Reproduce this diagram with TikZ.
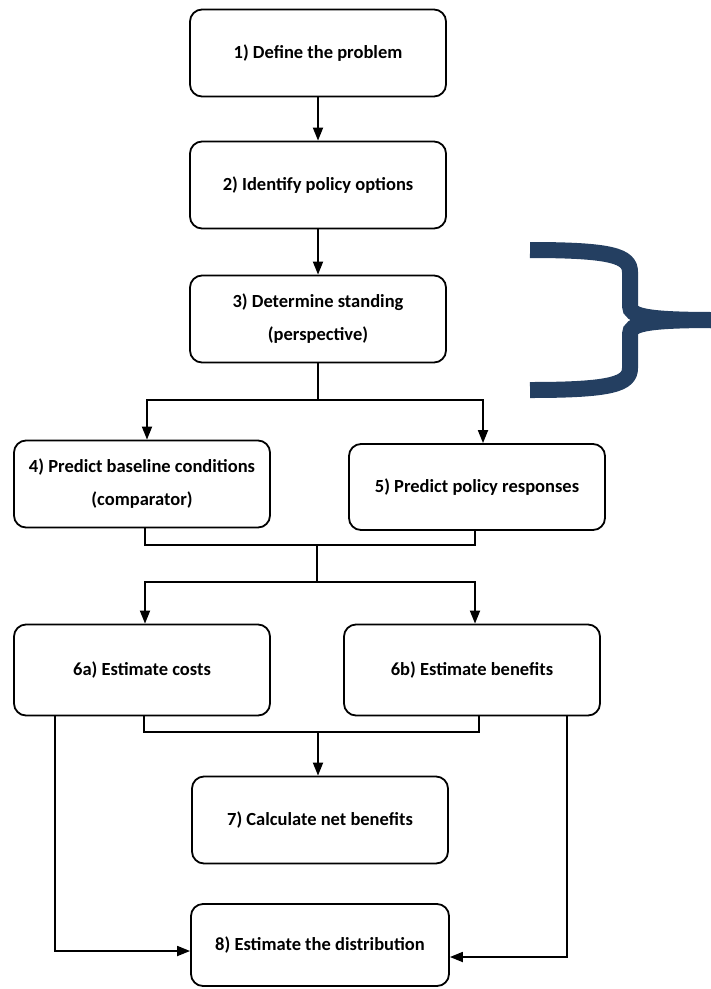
\documentclass[tikz,border=0pt]{standalone}
\usepackage{fontspec}
\setmainfont{Carlito}
\usetikzlibrary{positioning,arrows.meta}
\definecolor{bracenavy}{RGB}{36,63,97}

\begin{document}
\begin{tikzpicture}[x=1pt,y=-1pt,node distance=130pt,on grid,
    stepbox/.style={draw,line width=1.8pt,rounded corners=12pt,
      minimum width=256pt,minimum height=87pt,align=center,
      font=\fontsize{18.5}{33}\selectfont\bfseries},
    arr/.style={-{Triangle[length=13pt,width=10pt]},line width=1.8pt},
    link/.style={line width=1.8pt}]
   \useasboundingbox (0,0) rectangle (711,989);
   \node[stepbox] (def)   at (318,53) {1) Define the problem};
   \node[stepbox] (ident) [below=132pt of def]   {2) Identify policy options};
   \node[stepbox] (stand) [below=134pt of ident] {3) Determine standing\\(perspective)};
   \node[stepbox] (base)  [below left=165pt and 176pt of stand] {4) Predict baseline conditions\\(comparator)};
   \node[stepbox] (resp)  [below right=168pt and 159pt of stand,minimum height=86pt] {5) Predict policy responses};
   \node[stepbox] (costs) [below=186pt of base,minimum height=91pt] {6a) Estimate costs};
   \node[stepbox] (benef) [right=330pt of costs,minimum height=91pt] {6b) Estimate benefits};
   \node[stepbox] (net)   [below right=150pt and 178pt of costs] {7) Calculate net benefits};
   \node[stepbox] (dist)  [below=125pt of net,minimum height=82pt,minimum width=258pt] {8) Estimate the distribution};
   \coordinate (split) at (318,400);
   \coordinate (join1) at (317,545);
   \coordinate (join2) at (317,582);
   \coordinate (join3) at (318,732);
   \draw[arr] (def) -- (ident);
   \draw[arr] (ident) -- (stand);
   \draw[link] (stand) -- (split);
   \draw[arr] (split) -| ([xshift=5pt]base.north);
   \draw[arr] (split) -| ([xshift=6pt]resp.north);
   \draw[link] ([xshift=3pt]base.south) |- (join1) -| ([xshift=-2pt]resp.south);
   \draw[link] (join1) -- (join2);
   \draw[arr] (join2) -| ([xshift=3pt]costs.north);
   \draw[arr] (join2) -| ([xshift=3pt]benef.north);
   \draw[link] ([xshift=2pt]costs.south) |- (join3) -| ([xshift=7pt]benef.south);
   \draw[arr] (join3) -- (join3 |- net.north);
   \draw[arr] ([xshift=-87pt]costs.south) |- ([yshift=-6pt]dist.west);
   \draw[arr] ([xshift=95pt]benef.south) |- ([yshift=-12pt]dist.east);
   % brace
   \draw[bracenavy,line width=16pt]
     (530,250) .. controls (612,250) and (630,256) .. (630,272) -- (630,306)
     .. controls (630,316) and (645,320) .. (715,320);
   \draw[bracenavy,line width=16pt]
     (530,390) .. controls (612,390) and (630,384) .. (630,368) -- (630,334)
     .. controls (630,324) and (645,320) .. (715,320);
\end{tikzpicture}
\end{document}
